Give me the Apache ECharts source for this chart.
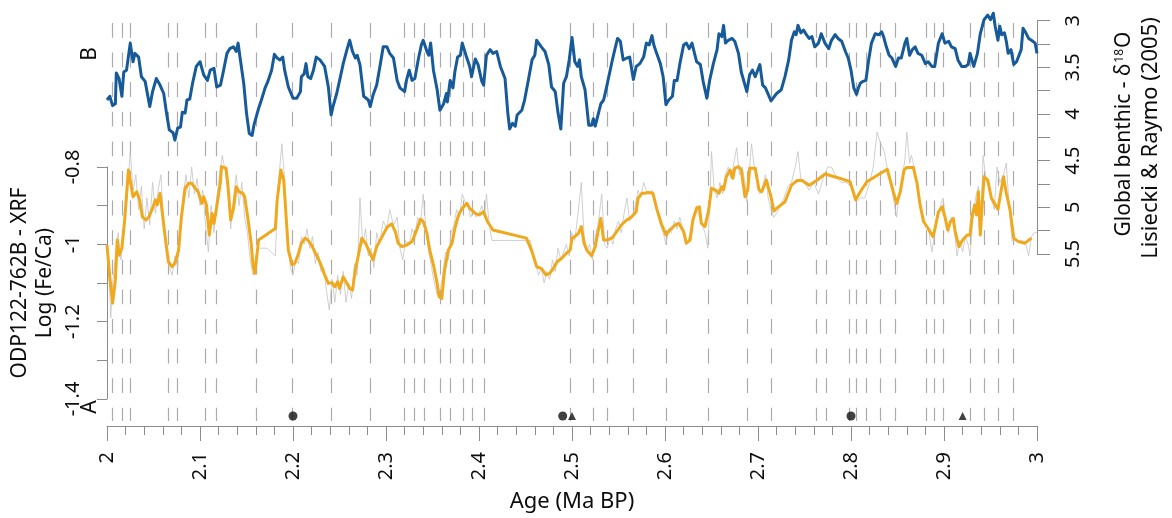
<!DOCTYPE html>
<html>
<head>
<meta charset="utf-8">
<title>ODP122-762B Fe/Ca and benthic δ18O, 2–3 Ma</title>
<script src="https://cdn.jsdelivr.net/npm/echarts@6/dist/echarts.min.js"></script>
<style>
  html, body { margin: 0; padding: 0; background: #fff; }
  #chart { width: 1172px; height: 518px; }
</style>
</head>
<body>
<div id="chart"></div>
<script>
// ---- Global benthic δ18O stack (Lisiecki & Raymo 2005), ‰ ----
const lrAge = [
  2.000, 2.003, 2.006, 2.009, 2.010, 2.013, 2.016, 2.018, 2.021, 2.025, 2.028, 2.030, 2.034, 2.037, 2.041, 2.043,
  2.046, 2.049, 2.053, 2.057, 2.061, 2.064, 2.067, 2.071, 2.073, 2.076, 2.079, 2.081, 2.084, 2.086, 2.089, 2.092,
  2.096, 2.100, 2.104, 2.108, 2.111, 2.115, 2.118, 2.122, 2.125, 2.129, 2.132, 2.136, 2.139, 2.141, 2.143, 2.147,
  2.150, 2.153, 2.156, 2.158, 2.160, 2.163, 2.166, 2.170, 2.173, 2.177, 2.180, 2.183, 2.186, 2.189, 2.191, 2.195,
  2.200, 2.204, 2.208, 2.209, 2.212, 2.214, 2.216, 2.219, 2.222, 2.225, 2.229, 2.234, 2.238, 2.241, 2.243, 2.247,
  2.251, 2.254, 2.258, 2.261, 2.264, 2.267, 2.269, 2.272, 2.276, 2.278, 2.281, 2.283, 2.286, 2.290, 2.294, 2.297,
  2.301, 2.304, 2.308, 2.312, 2.315, 2.320, 2.322, 2.325, 2.328, 2.331, 2.335, 2.338, 2.340, 2.344, 2.346, 2.348,
  2.351, 2.355, 2.358, 2.362, 2.365, 2.366, 2.369, 2.372, 2.374, 2.377, 2.380, 2.382, 2.386, 2.390, 2.392, 2.396,
  2.399, 2.403, 2.405, 2.408, 2.412, 2.415, 2.419, 2.423, 2.425, 2.428, 2.431, 2.433, 2.436, 2.439, 2.441, 2.446,
  2.449, 2.453, 2.457, 2.460, 2.462, 2.467, 2.471, 2.475, 2.478, 2.482, 2.485, 2.488, 2.491, 2.494, 2.497, 2.500,
  2.503, 2.506, 2.508, 2.510, 2.514, 2.518, 2.521, 2.523, 2.525, 2.528, 2.531, 2.534, 2.537, 2.539, 2.543, 2.546,
  2.549, 2.552, 2.555, 2.559, 2.562, 2.566, 2.569, 2.573, 2.577, 2.580, 2.583, 2.586, 2.588, 2.591, 2.595, 2.598,
  2.601, 2.604, 2.608, 2.610, 2.613, 2.616, 2.620, 2.623, 2.626, 2.629, 2.631, 2.634, 2.638, 2.641, 2.645, 2.648,
  2.652, 2.656, 2.658, 2.661, 2.663, 2.665, 2.668, 2.672, 2.675, 2.679, 2.682, 2.686, 2.688, 2.691, 2.694, 2.697,
  2.699, 2.702, 2.705, 2.708, 2.710, 2.714, 2.720, 2.725, 2.729, 2.733, 2.736, 2.739, 2.741, 2.743, 2.746, 2.749,
  2.752, 2.755, 2.758, 2.761, 2.765, 2.768, 2.772, 2.776, 2.779, 2.783, 2.786, 2.790, 2.794, 2.797, 2.800, 2.803,
  2.806, 2.808, 2.810, 2.813, 2.816, 2.819, 2.822, 2.826, 2.830, 2.833, 2.835, 2.838, 2.841, 2.844, 2.846, 2.848,
  2.851, 2.854, 2.858, 2.860, 2.863, 2.866, 2.869, 2.872, 2.876, 2.880, 2.883, 2.887, 2.890, 2.894, 2.898, 2.901,
  2.905, 2.908, 2.912, 2.915, 2.919, 2.923, 2.926, 2.928, 2.932, 2.936, 2.939, 2.943, 2.947, 2.950, 2.953, 2.955,
  2.958, 2.960, 2.962, 2.965, 2.967, 2.969, 2.972, 2.975, 2.978, 2.980, 2.983, 2.985, 2.988, 2.991, 2.994, 2.998,
  3.000
];
const lrD18O = [
  3.85, 3.81, 3.91, 3.89, 3.56, 3.62, 3.81, 3.55, 3.53, 3.24, 3.44, 3.35, 3.39, 3.60, 3.65, 3.64,
  3.92, 3.76, 3.62, 3.69, 3.78, 3.99, 4.17, 4.20, 4.28, 4.15, 4.14, 3.98, 3.99, 3.85, 3.84, 3.67,
  3.49, 3.44, 3.58, 3.64, 3.53, 3.51, 3.71, 3.69, 3.55, 3.35, 3.30, 3.28, 3.33, 3.24, 3.39, 3.67,
  3.99, 4.21, 4.23, 4.12, 4.14, 3.94, 3.85, 3.72, 3.65, 3.53, 3.36, 3.40, 3.42, 3.39, 3.53, 3.71,
  3.83, 3.83, 3.76, 3.60, 3.57, 3.46, 3.60, 3.62, 3.53, 3.39, 3.42, 3.49, 3.71, 4.01, 3.92, 3.78,
  3.60, 3.46, 3.31, 3.21, 3.33, 3.40, 3.37, 3.47, 3.81, 3.80, 3.85, 3.92, 3.80, 3.69, 3.46, 3.28,
  3.28, 3.35, 3.40, 3.64, 3.72, 3.76, 3.64, 3.53, 3.64, 3.62, 3.40, 3.26, 3.21, 3.33, 3.37, 3.24,
  3.53, 3.74, 3.96, 3.89, 3.78, 3.87, 3.64, 3.72, 3.55, 3.39, 3.37, 3.24, 3.37, 3.49, 3.60, 3.41,
  3.47, 3.65, 3.69, 3.37, 3.31, 3.35, 3.33, 3.49, 3.49, 3.62, 3.99, 4.16, 4.10, 4.13, 4.01, 3.96,
  3.85, 3.64, 3.42, 3.37, 3.21, 3.28, 3.33, 3.47, 3.71, 3.76, 3.99, 4.16, 3.67, 3.60, 3.42, 3.18,
  3.44, 3.49, 3.42, 3.60, 3.74, 4.12, 4.12, 4.05, 4.13, 4.01, 3.89, 3.85, 3.72, 3.74, 3.44, 3.31,
  3.19, 3.22, 3.42, 3.40, 3.39, 3.63, 3.49, 3.46, 3.39, 3.24, 3.26, 3.16, 3.26, 3.35, 3.46, 3.60,
  3.90, 3.85, 3.81, 3.64, 3.64, 3.46, 3.26, 3.24, 3.30, 3.24, 3.24, 3.44, 3.47, 3.65, 3.83, 3.64,
  3.46, 3.31, 3.14, 3.17, 3.05, 3.24, 3.21, 3.19, 3.22, 3.35, 3.55, 3.69, 3.76, 3.58, 3.53, 3.60,
  3.58, 3.47, 3.69, 3.72, 3.70, 3.86, 3.78, 3.74, 3.60, 3.42, 3.21, 3.12, 3.15, 3.05, 3.13, 3.10,
  3.15, 3.19, 3.17, 3.28, 3.24, 3.14, 3.24, 3.30, 3.21, 3.15, 3.19, 3.22, 3.33, 3.40, 3.53, 3.72,
  3.79, 3.72, 3.67, 3.65, 3.64, 3.42, 3.24, 3.14, 3.15, 3.12, 3.17, 3.28, 3.37, 3.40, 3.39, 3.49,
  3.40, 3.40, 3.24, 3.19, 3.37, 3.31, 3.28, 3.35, 3.37, 3.46, 3.44, 3.49, 3.49, 3.24, 3.14, 3.24,
  3.22, 3.28, 3.30, 3.42, 3.49, 3.49, 3.47, 3.35, 3.49, 3.35, 3.14, 2.99, 2.94, 2.99, 2.92, 3.06,
  3.21, 3.06, 3.15, 3.13, 3.22, 3.35, 3.31, 3.47, 3.44, 3.46, 3.31, 3.08, 3.13, 3.19, 3.21, 3.24,
  3.35
];

// ---- ODP122-762B XRF log(Fe/Ca): smoothed record ----
const feCaSmoothAge = [
  2.000, 2.003, 2.006, 2.009, 2.011, 2.013, 2.016, 2.019, 2.023, 2.025, 2.028, 2.032, 2.035, 2.038, 2.042, 2.045,
  2.049, 2.052, 2.054, 2.057, 2.060, 2.062, 2.066, 2.070, 2.073, 2.077, 2.080, 2.084, 2.088, 2.091, 2.095, 2.098,
  2.102, 2.104, 2.107, 2.110, 2.113, 2.115, 2.118, 2.122, 2.123, 2.128, 2.130, 2.133, 2.136, 2.139, 2.142, 2.146,
  2.148, 2.151, 2.155, 2.157, 2.159, 2.163, 2.181, 2.183, 2.187, 2.190, 2.192, 2.195, 2.199, 2.202, 2.206, 2.209,
  2.213, 2.216, 2.220, 2.224, 2.227, 2.230, 2.234, 2.238, 2.242, 2.245, 2.248, 2.250, 2.254, 2.258, 2.261, 2.264,
  2.267, 2.270, 2.274, 2.278, 2.282, 2.286, 2.290, 2.295, 2.301, 2.306, 2.310, 2.313, 2.317, 2.322, 2.328, 2.333,
  2.337, 2.340, 2.344, 2.347, 2.351, 2.355, 2.357, 2.360, 2.363, 2.367, 2.371, 2.374, 2.378, 2.382, 2.387, 2.390,
  2.396, 2.400, 2.405, 2.409, 2.415, 2.451, 2.457, 2.462, 2.467, 2.472, 2.476, 2.480, 2.484, 2.489, 2.494, 2.498,
  2.500, 2.503, 2.507, 2.510, 2.513, 2.516, 2.521, 2.525, 2.528, 2.531, 2.534, 2.537, 2.543, 2.548, 2.553, 2.559,
  2.564, 2.569, 2.571, 2.575, 2.578, 2.582, 2.587, 2.591, 2.596, 2.601, 2.605, 2.611, 2.615, 2.620, 2.623, 2.627,
  2.630, 2.634, 2.637, 2.639, 2.643, 2.647, 2.650, 2.654, 2.658, 2.661, 2.663, 2.666, 2.670, 2.673, 2.675, 2.679,
  2.682, 2.686, 2.689, 2.691, 2.697, 2.701, 2.704, 2.709, 2.714, 2.717, 2.720, 2.729, 2.736, 2.742, 2.747, 2.755,
  2.763, 2.772, 2.785, 2.799, 2.805, 2.809, 2.817, 2.839, 2.846, 2.849, 2.853, 2.857, 2.860, 2.867, 2.871, 2.874,
  2.878, 2.883, 2.888, 2.890, 2.894, 2.898, 2.901, 2.904, 2.907, 2.910, 2.912, 2.916, 2.920, 2.925, 2.928, 2.930,
  2.933, 2.935, 2.937, 2.939, 2.943, 2.947, 2.951, 2.958, 2.964, 2.967, 2.971, 2.975, 2.980, 2.987, 2.994
];
const feCaSmooth = [
  -1.002, -1.084, -1.152, -1.092, -0.989, -1.028, -1.010, -0.937, -0.808, -0.803, -0.877, -0.864, -0.885, -0.929, -0.937, -0.929,
  -0.907, -0.885, -0.898, -0.868, -0.929, -0.971, -1.045, -1.058, -1.049, -1.015, -0.929, -0.855, -0.842, -0.842, -0.855, -0.864,
  -0.894, -0.877, -0.898, -0.976, -0.920, -0.946, -0.903, -0.838, -0.799, -0.803, -0.847, -0.937, -0.907, -0.851, -0.864, -0.868,
  -0.877, -0.924, -0.997, -1.053, -1.075, -0.989, -0.959, -0.885, -0.808, -0.834, -0.907, -1.015, -1.053, -1.049, -1.023, -0.997,
  -0.984, -0.989, -1.002, -1.023, -1.036, -1.053, -1.079, -1.101, -1.099, -1.110, -1.097, -1.114, -1.084, -1.101, -1.114, -1.118,
  -1.066, -1.032, -0.984, -0.997, -1.019, -1.040, -1.006, -0.984, -0.956, -0.947, -0.967, -0.997, -1.006, -1.002, -0.993, -0.963,
  -0.935, -0.941, -0.971, -1.015, -1.053, -1.101, -1.135, -1.140, -1.066, -1.015, -0.997, -0.959, -0.924, -0.907, -0.894, -0.907,
  -0.920, -0.924, -0.916, -0.941, -0.963, -0.984, -1.019, -1.058, -1.062, -1.079, -1.075, -1.062, -1.045, -1.036, -1.023, -1.015,
  -0.984, -0.980, -0.971, -0.954, -0.997, -1.015, -1.030, -1.006, -0.967, -0.933, -0.989, -0.989, -0.984, -0.967, -0.950, -0.937,
  -0.929, -0.916, -0.881, -0.868, -0.868, -0.866, -0.868, -0.907, -0.946, -0.976, -0.963, -0.950, -0.946, -0.967, -0.997, -0.989,
  -0.937, -0.907, -0.903, -0.946, -0.954, -0.911, -0.855, -0.859, -0.868, -0.851, -0.859, -0.825, -0.808, -0.829, -0.803, -0.799,
  -0.808, -0.877, -0.859, -0.803, -0.803, -0.859, -0.864, -0.834, -0.877, -0.914, -0.907, -0.890, -0.847, -0.835, -0.834, -0.847,
  -0.835, -0.818, -0.827, -0.838, -0.885, -0.868, -0.838, -0.806, -0.868, -0.894, -0.864, -0.808, -0.801, -0.801, -0.842, -0.894,
  -0.941, -0.959, -0.980, -0.963, -0.916, -0.903, -0.929, -0.963, -0.941, -0.933, -0.967, -1.006, -0.989, -0.976, -0.976, -0.929,
  -0.898, -0.924, -0.864, -0.976, -0.825, -0.834, -0.881, -0.909, -0.825, -0.868, -0.911, -0.984, -0.993, -0.997, -0.984
];

// ---- ODP122-762B XRF log(Fe/Ca): raw measurements ----
const feCaRawAge = [
  2.000, 2.003, 2.004, 2.006, 2.009, 2.012, 2.015, 2.018, 2.021, 2.025, 2.028, 2.031, 2.034, 2.037, 2.040, 2.043,
  2.046, 2.049, 2.052, 2.055, 2.058, 2.061, 2.064, 2.067, 2.070, 2.073, 2.076, 2.079, 2.082, 2.085, 2.088, 2.091,
  2.094, 2.097, 2.100, 2.103, 2.106, 2.109, 2.112, 2.115, 2.118, 2.121, 2.124, 2.127, 2.130, 2.133, 2.136, 2.139,
  2.142, 2.145, 2.148, 2.151, 2.154, 2.157, 2.160, 2.164, 2.172, 2.181, 2.184, 2.188, 2.191, 2.194, 2.197, 2.200,
  2.203, 2.206, 2.209, 2.212, 2.215, 2.218, 2.221, 2.224, 2.227, 2.230, 2.233, 2.236, 2.239, 2.242, 2.245, 2.248,
  2.251, 2.254, 2.257, 2.260, 2.263, 2.266, 2.269, 2.272, 2.275, 2.278, 2.281, 2.284, 2.287, 2.290, 2.293, 2.297,
  2.301, 2.304, 2.308, 2.312, 2.315, 2.318, 2.321, 2.325, 2.328, 2.331, 2.334, 2.337, 2.340, 2.343, 2.346, 2.349,
  2.352, 2.355, 2.358, 2.361, 2.364, 2.367, 2.370, 2.373, 2.376, 2.379, 2.382, 2.385, 2.388, 2.391, 2.394, 2.397,
  2.400, 2.403, 2.406, 2.408, 2.411, 2.414, 2.455, 2.458, 2.461, 2.464, 2.467, 2.470, 2.473, 2.476, 2.479, 2.482,
  2.485, 2.488, 2.491, 2.494, 2.497, 2.500, 2.503, 2.506, 2.510, 2.513, 2.516, 2.519, 2.522, 2.525, 2.528, 2.532,
  2.535, 2.538, 2.541, 2.544, 2.547, 2.550, 2.553, 2.556, 2.559, 2.562, 2.565, 2.568, 2.571, 2.574, 2.577, 2.580,
  2.583, 2.586, 2.589, 2.592, 2.595, 2.598, 2.601, 2.604, 2.607, 2.610, 2.613, 2.616, 2.619, 2.622, 2.625, 2.628,
  2.631, 2.634, 2.637, 2.640, 2.643, 2.646, 2.648, 2.650, 2.653, 2.656, 2.659, 2.662, 2.665, 2.668, 2.671, 2.674,
  2.677, 2.680, 2.683, 2.686, 2.688, 2.691, 2.693, 2.696, 2.699, 2.702, 2.705, 2.708, 2.711, 2.714, 2.717, 2.720,
  2.724, 2.728, 2.732, 2.736, 2.740, 2.743, 2.746, 2.750, 2.755, 2.760, 2.765, 2.770, 2.775, 2.779, 2.785, 2.790,
  2.795, 2.800, 2.806, 2.810, 2.815, 2.820, 2.824, 2.828, 2.832, 2.836, 2.840, 2.844, 2.849, 2.852, 2.855, 2.858,
  2.860, 2.863, 2.865, 2.868, 2.871, 2.874, 2.877, 2.880, 2.884, 2.887, 2.890, 2.893, 2.896, 2.899, 2.902, 2.905,
  2.908, 2.911, 2.914, 2.917, 2.920, 2.923, 2.926, 2.928, 2.931, 2.934, 2.937, 2.940, 2.942, 2.945, 2.948, 2.951,
  2.954, 2.957, 2.960, 2.964, 2.967, 2.970, 2.973, 2.977, 2.981, 2.985, 2.988, 2.991, 2.994, 2.997, 3.000
];
const feCaRaw = [
  -1.00, -1.12, -1.19, -1.10, -1.03, -0.97, -1.04, -0.95, -0.90, -0.76, -0.86, -0.82, -0.91, -0.85, -0.96, -0.88,
  -0.95, -0.84, -0.92, -0.86, -0.82, -0.95, -1.02, -1.06, -1.08, -1.03, -1.06, -0.95, -0.87, -0.82, -0.88, -0.80,
  -0.87, -0.83, -0.90, -0.86, -0.95, -1.02, -0.90, -0.97, -0.88, -0.82, -0.77, -0.81, -0.86, -0.96, -0.88, -0.82,
  -0.90, -0.84, -0.93, -0.97, -1.04, -1.08, -1.03, -1.01, -1.01, -1.03, -0.85, -0.74, -0.83, -0.97, -1.06, -1.08,
  -1.04, -1.05, -0.98, -1.00, -0.96, -1.01, -0.98, -1.05, -1.02, -1.07, -1.06, -1.12, -1.17, -1.09, -1.15, -1.08,
  -1.13, -1.07, -1.15, -1.10, -1.14, -1.05, -1.08, -0.88, -1.00, -0.96, -1.03, -1.01, -1.06, -0.97, -1.00, -0.94,
  -0.96, -0.91, -0.95, -0.93, -1.01, -1.04, -0.99, -1.00, -0.96, -0.98, -0.93, -0.95, -0.87, -0.96, -1.02, -1.06,
  -1.10, -1.13, -1.12, -1.08, -1.02, -1.04, -0.97, -0.95, -0.91, -0.93, -0.87, -0.89, -0.90, -0.93, -0.91, -0.93,
  -0.92, -0.90, -0.93, -0.87, -0.95, -0.99, -0.99, -1.02, -1.05, -1.08, -1.06, -1.10, -1.07, -1.09, -1.04, -1.07,
  -1.01, -1.04, -1.02, -1.00, -1.03, -0.97, -0.99, -0.93, -0.84, -0.98, -1.02, -1.00, -1.04, -0.98, -0.95, -0.87,
  -1.00, -1.01, -0.98, -1.00, -0.96, -0.94, -0.97, -0.92, -0.88, -0.94, -0.93, -0.90, -0.86, -0.88, -0.84, -0.86,
  -0.87, -0.86, -0.89, -0.92, -0.95, -0.97, -1.00, -0.96, -0.97, -0.94, -0.96, -0.93, -0.96, -1.00, -0.99, -0.96,
  -0.92, -0.90, -0.93, -0.95, -0.97, -1.01, -0.90, -0.76, -0.86, -0.88, -0.84, -0.87, -0.82, -0.80, -0.83, -0.79,
  -0.75, -0.82, -0.80, -0.84, -0.89, -0.80, -0.74, -0.80, -0.83, -0.87, -0.85, -0.82, -0.88, -0.91, -0.93, -0.92,
  -0.90, -0.88, -0.85, -0.84, -0.80, -0.76, -0.83, -0.84, -0.86, -0.84, -0.87, -0.83, -0.80, -0.80, -0.83, -0.84,
  -0.84, -0.85, -0.89, -0.88, -0.88, -0.84, -0.80, -0.71, -0.74, -0.76, -0.82, -0.86, -0.93, -0.87, -0.83, -0.78,
  -0.71, -0.79, -0.77, -0.80, -0.85, -0.90, -0.94, -0.95, -0.97, -1.02, -0.97, -0.93, -0.90, -0.88, -0.94, -0.97,
  -0.93, -0.96, -1.03, -0.99, -1.02, -0.98, -1.00, -1.03, -0.94, -0.88, -0.85, -0.92, -0.77, -0.83, -0.85, -0.88,
  -0.91, -0.80, -0.84, -0.82, -0.79, -0.90, -0.99, -0.99, -0.99, -0.99, -1.00, -1.03, -0.98, -0.97, -0.97
];

// Ages of the correlation tie lines (dashed verticals)
const tieAges = [
  2.006, 2.016, 2.025, 2.066, 2.076, 2.106, 2.118, 2.161, 2.199, 2.241, 2.283, 2.320, 2.330, 2.341, 2.358, 2.369,
  2.383, 2.393, 2.406, 2.498, 2.523, 2.538, 2.566, 2.601, 2.646, 2.688, 2.714, 2.763, 2.773, 2.798, 2.806, 2.816,
  2.831, 2.848, 2.881, 2.889, 2.899, 2.928, 2.943, 2.958, 2.974
];
// Age-model control points
const circleAges = [2.20, 2.49, 2.80];
const triangleAges = [2.50, 2.92];

// ---- layout & styling ----
const FONT = '"Noto Sans", "DejaVu Sans", sans-serif';
const INK = '#0d0d0d';
const AXIS_GREY = '#8c8c8c';
const PLOT_LEFT = 107, PLOT_RIGHT = 135;
const BASE_TOP = 20, BASE_HEIGHT = 408;          // full-height frame ending at the age axis
const tieTopPx = 23, tieBottomPx = 423, markerPx = 418;
const toBase = px => (BASE_TOP + BASE_HEIGHT - px) / BASE_HEIGHT;

const zip = (xs, ys) => xs.map((x, i) => [x, ys[i]]);

const chart = echarts.init(document.getElementById('chart'), null, { renderer: 'canvas' });

const hiddenX = i => ({ gridIndex: i, type: 'value', min: 2, max: 3, show: false });

const option = {
  animation: false,
  backgroundColor: '#ffffff',
  textStyle: { fontFamily: FONT },
  grid: [
    { left: PLOT_LEFT, right: PLOT_RIGHT, top: 20.7, height: 233.3 },   // δ18O panel
    { left: PLOT_LEFT, right: PLOT_RIGHT, top: 167, height: 232 },      // Fe/Ca panel
    { left: PLOT_LEFT, right: PLOT_RIGHT, top: BASE_TOP, height: BASE_HEIGHT } // shared age axis
  ],
  xAxis: [
    hiddenX(0),
    hiddenX(1),
    {
      gridIndex: 2, type: 'value', min: 2, max: 3, interval: 0.1,
      axisLine: { onZero: false, lineStyle: { color: AXIS_GREY, width: 1 } },
      axisTick: { length: 15, lineStyle: { color: AXIS_GREY, width: 1 } },
      minorTick: { show: true, splitNumber: 5, length: 9, lineStyle: { color: AXIS_GREY, width: 1 } },
      splitLine: { show: false },
      axisLabel: { rotate: 90, margin: 26, color: INK, fontSize: 20, fontFamily: FONT },
      name: 'Age (Ma BP)', nameLocation: 'middle', nameGap: 65,
      nameTextStyle: { color: INK, fontSize: 22, fontFamily: FONT }
    }
  ],
  yAxis: [
    {
      gridIndex: 0, type: 'value', position: 'right', inverse: true, min: 3, max: 5.5, interval: 0.25,
      axisLine: { show: true, lineStyle: { color: AXIS_GREY, width: 1 } },
      axisTick: { show: true, length: 13, lineStyle: { color: AXIS_GREY, width: 1 } },
      splitLine: { show: false },
      axisLabel: {
        rotate: 90, margin: 36, align: 'center', verticalAlign: 'middle',
        color: INK, fontSize: 20, fontFamily: FONT,
        formatter: v => (Math.round(v * 4) % 2 === 0 ? String(v) : '')
      }
    },
    {
      gridIndex: 1, type: 'value', position: 'left', min: -1.4, max: -0.8, interval: 0.1,
      axisLine: { show: true, lineStyle: { color: AXIS_GREY, width: 1 } },
      axisTick: { show: true, length: 10, lineStyle: { color: AXIS_GREY, width: 1 } },
      splitLine: { show: false },
      axisLabel: {
        rotate: 90, margin: 34, align: 'center', verticalAlign: 'middle',
        color: INK, fontSize: 20, fontFamily: FONT,
        formatter: v => (Math.round(v * 10) % 2 === 0 ? String(v) : '')
      }
    },
    { gridIndex: 2, type: 'value', min: 0, max: 1, show: false }
  ],
  series: [
    {
      name: 'raw Fe/Ca', type: 'line', xAxisIndex: 1, yAxisIndex: 1,
      data: zip(feCaRawAge, feCaRaw), showSymbol: false, symbol: 'none', clip: false, z: 2,
      lineStyle: { color: '#c4c4c4', width: 0.8 }
    },
    {
      name: 'Fe/Ca', type: 'line', xAxisIndex: 1, yAxisIndex: 1,
      data: zip(feCaSmoothAge, feCaSmooth), showSymbol: false, symbol: 'none', clip: false, z: 3,
      lineStyle: { color: '#f0a81c', width: 3, join: 'round' }
    },
    {
      name: 'δ18O', type: 'line', xAxisIndex: 0, yAxisIndex: 0,
      data: zip(lrAge, lrD18O), showSymbol: false, symbol: 'none', clip: false, z: 4,
      lineStyle: { color: '#175a9a', width: 3, join: 'round' }
    },
    {
      name: 'tie points (circle)', type: 'scatter', xAxisIndex: 2, yAxisIndex: 2,
      data: circleAges.map(a => [a, toBase(markerPx)]),
      symbol: 'circle', symbolSize: 9, itemStyle: { color: '#111' }, z: 5, silent: true,
      markLine: {
        silent: true, symbol: ['none', 'none'], label: { show: false }, z: 1,
        lineStyle: { color: '#ababab', width: 1.2, type: [14.8, 14.8] },
        emphasis: { disabled: true },
        data: tieAges.map(a => [
          { coord: [a, toBase(tieTopPx)] },
          { coord: [a, toBase(tieBottomPx)] }
        ])
      }
    },
    {
      name: 'tie points (triangle)', type: 'scatter', xAxisIndex: 2, yAxisIndex: 2,
      data: triangleAges.map(a => [a, toBase(markerPx)]),
      symbol: 'triangle', symbolSize: 8, itemStyle: { color: '#111' }, z: 5, silent: true
    }
  ],
  graphic: [
    { type: 'text', x: 90, y: 54, rotation: Math.PI / 2,
      style: { text: 'B', font: '21px ' + FONT, fill: INK, align: 'center', verticalAlign: 'middle' } },
    { type: 'text', x: 90, y: 407, rotation: Math.PI / 2,
      style: { text: 'A', font: '21px ' + FONT, fill: INK, align: 'center', verticalAlign: 'middle' } },
    { type: 'text', x: 20, y: 283, rotation: Math.PI / 2,
      style: { text: 'ODP122-762B - XRF', font: '21px ' + FONT, fill: INK, align: 'center', verticalAlign: 'middle' } },
    { type: 'text', x: 45, y: 283, rotation: Math.PI / 2,
      style: { text: 'Log (Fe/Ca)', font: '21px ' + FONT, fill: INK, align: 'center', verticalAlign: 'middle' } },
    { type: 'text', x: 1124, y: 134, rotation: Math.PI / 2,
      style: {
        text: '{n|Global benthic - δ}{s|18}{n|O}', align: 'center', verticalAlign: 'middle', fill: INK,
        rich: {
          n: { fontSize: 21, fontFamily: FONT, fill: INK, color: INK },
          s: { fontSize: 12, fontFamily: FONT, fill: INK, color: INK, verticalAlign: 'top', padding: [0, 1, 0, 1] }
        }
      } },
    { type: 'text', x: 1151, y: 138, rotation: Math.PI / 2,
      style: { text: 'Lisiecki & Raymo (2005)', font: '22px ' + FONT, fill: INK, align: 'center', verticalAlign: 'middle' } }
  ]
};

chart.setOption(option);
</script>
</body>
</html>
